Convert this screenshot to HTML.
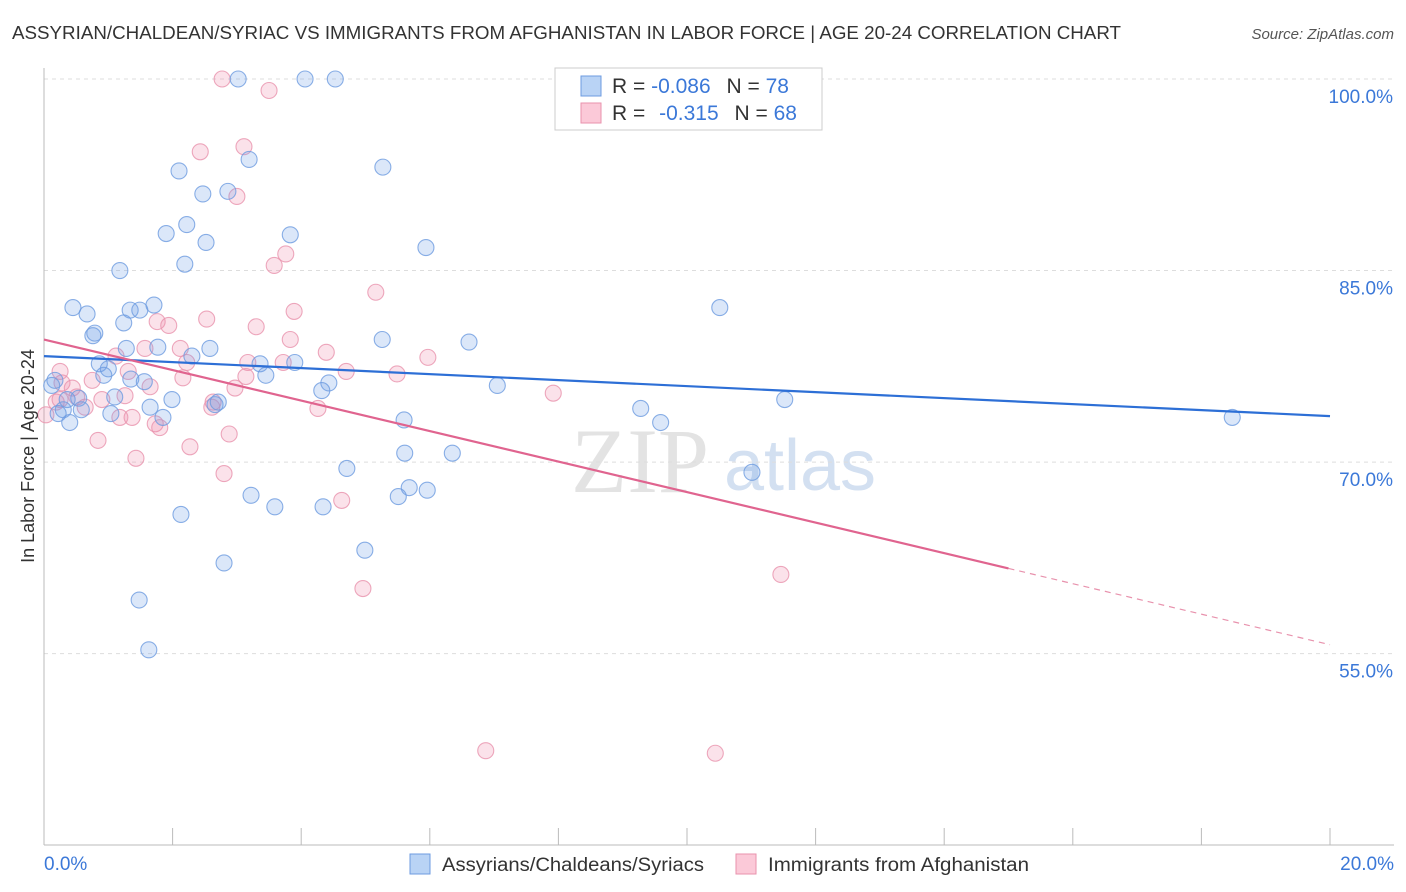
<!DOCTYPE html>
<html><head><meta charset="utf-8"><style>
body{margin:0;background:#fff;font-family:"Liberation Sans",sans-serif}
svg{display:block}
</style></head><body>
<svg id="chart" width="1406" height="892" xmlns="http://www.w3.org/2000/svg" font-family="Liberation Sans, sans-serif">
<text x="12" y="39" font-size="18" fill="#333" textLength="1109" lengthAdjust="spacingAndGlyphs">ASSYRIAN/CHALDEAN/SYRIAC VS IMMIGRANTS FROM AFGHANISTAN IN LABOR FORCE | AGE 20-24 CORRELATION CHART</text>
<text x="1394" y="39" font-size="15" fill="#555" text-anchor="end" font-style="italic">Source: ZipAtlas.com</text>
<g>
<text x="640" y="492" font-size="92" fill="#ddd" text-anchor="middle" font-family="Liberation Serif, serif" opacity="0.8">ZIP</text>
<text x="800" y="490" font-size="72" fill="#c9d9ee" text-anchor="middle" opacity="0.8">atlas</text>
</g>
<g id="grid"></g>
<g id="axes"></g>
<g id="marks"></g>
<text transform="translate(34,456) rotate(-90)" font-size="18" fill="#333" text-anchor="middle">In Labor Force | Age 20-24</text>
<g>
<rect x="555" y="68" width="267" height="62" fill="#fff" stroke="#ccc"/>
<rect x="581" y="76" width="20" height="20" fill="#b9d3f5" stroke="#6d9be0"/>
<rect x="581" y="103" width="20" height="20" fill="#fbc9d8" stroke="#e892ad"/>
<text x="612" y="93" font-size="21" fill="#333">R = <tspan fill="#3b78d8">-0.086</tspan>  <tspan dx="10">N = </tspan><tspan fill="#3b78d8">78</tspan></text>
<text x="612" y="120" font-size="21" fill="#333">R = <tspan dx="8" fill="#3b78d8">-0.315</tspan>  <tspan dx="10">N = </tspan><tspan fill="#3b78d8">68</tspan></text>
</g>
<g>
<rect x="410" y="854" width="20" height="20" fill="#b9d3f5" stroke="#6d9be0"/>
<text x="442" y="871" font-size="19" fill="#333" textLength="262" lengthAdjust="spacingAndGlyphs">Assyrians/Chaldeans/Syriacs</text>
<rect x="736" y="854" width="20" height="20" fill="#fbc9d8" stroke="#e892ad"/>
<text x="768" y="871" font-size="19" fill="#333" textLength="261" lengthAdjust="spacingAndGlyphs">Immigrants from Afghanistan</text>
</g>
</svg>
<script>
const xTicks=[0,2,4,6,8,10,12,14,16,18,20];
const yTicks=[100,85,70,55];
const yTickLabels=["100.0%","85.0%","70.0%","55.0%"];
const blueX=[3.02,4.06,4.53,2.10,3.19,5.27,2.47,2.86,2.22,1.90,2.52,3.83,5.94,2.19,1.18,0.45,0.67,1.34,1.49,1.71,1.24,0.76,0.79,10.51,5.26,6.61,1.28,1.77,2.58,2.30,0.86,1.00,3.36,3.90,3.45,0.93,1.35,1.56,4.43,4.32,7.05,0.17,0.12,0.54,0.36,1.10,1.99,1.65,2.66,2.71,0.58,0.30,0.22,1.04,1.85,11.52,9.28,9.59,5.60,0.40,18.48,5.61,6.35,4.71,11.01,5.68,3.22,5.51,5.96,3.59,4.34,2.13,4.99,2.80,1.48,1.63];
const blueY=[100,100,100,92.8,93.7,93.1,91.0,91.2,88.6,87.9,87.2,87.8,86.8,85.5,85.0,82.1,81.6,81.9,81.9,82.3,80.9,79.9,80.1,82.1,79.6,79.4,78.9,79.0,78.9,78.3,77.7,77.3,77.7,77.8,76.8,76.8,76.5,76.3,76.2,75.6,76.0,76.4,76.0,75.0,74.9,75.1,74.9,74.3,74.5,74.7,74.1,74.1,73.8,73.8,73.5,74.9,74.2,73.1,73.3,73.1,73.5,70.7,70.7,69.5,69.2,68.0,67.4,67.3,67.8,66.5,66.5,65.9,63.1,62.1,59.2,55.3];
const pinkX=[2.77,3.50,2.43,3.11,3.00,3.76,3.58,5.16,3.89,2.53,3.30,1.76,1.94,3.83,4.39,1.57,2.12,1.12,2.22,3.72,3.17,5.97,4.70,5.49,3.14,2.16,1.31,0.75,0.28,0.25,0.44,0.90,0.51,1.26,1.65,2.97,2.63,2.61,0.19,0.64,4.26,1.37,1.18,1.73,1.80,2.88,0.84,2.27,1.43,2.80,4.63,7.92,11.46,4.96,6.87,10.44,0.03,0.25];
const pinkY=[100,99.1,94.3,94.7,90.8,86.3,85.4,83.3,81.8,81.2,80.6,81.0,80.7,79.6,78.6,78.9,78.9,78.3,77.8,77.8,77.8,78.2,77.1,76.9,76.7,76.6,77.1,76.4,76.2,77.1,75.8,74.9,75.1,75.2,75.9,75.8,74.7,74.3,74.7,74.3,74.2,73.5,73.5,73.0,72.7,72.2,71.7,71.2,70.3,69.1,67.0,75.4,61.2,60.1,47.4,47.2,73.7,74.9];
const blueTrend=[78.3,73.6];
const pinkTrend=[79.6,55.7];
const pinkSolidEnd=15.0;
const NS="http://www.w3.org/2000/svg";
const X=v=>44+v/20*1286;
const Y=v=>79+(100-v)*12.77;
function mk(tag,attrs,parent){const e=document.createElementNS(NS,tag);for(const k in attrs)e.setAttribute(k,attrs[k]);parent.appendChild(e);return e;}
const grid=document.getElementById('grid'),axes=document.getElementById('axes'),marks=document.getElementById('marks');
yTicks.forEach((t,i)=>{
 const l=mk('line',{x1:44,x2:1394,y1:Y(t),y2:Y(t),stroke:'#ddd','stroke-dasharray':'4,4'},grid);
 
 
 const tx=mk('text',{x:1393,y:Y(t)+24,'font-size':19,fill:'#3b78d8','text-anchor':'end'},axes);
 tx.textContent=yTickLabels[i];
 
 
});
const ax=mk('line',{x1:44,x2:44,y1:68,y2:845,stroke:'#bbb'},axes);


const bx=mk('line',{x1:44,x2:1394,y1:845,y2:845,stroke:'#bbb'},axes);


xTicks.forEach(t=>{
 const l=mk('line',{x1:X(t),x2:X(t),y1:828,y2:845,stroke:'#bbb'},axes);
 
 
});
[[0,"0.0%",'start',44],[20,"20.0%",'end',1394]].forEach(([t,s,a,x])=>{
 const tx=mk('text',{x:x,y:870,'font-size':19,fill:'#3b78d8','text-anchor':a},axes);
 tx.textContent=s;
 
 
});
function pts(xs,ys,fill,stroke,name){xs.forEach((x,i)=>{
 const c=mk('circle',{cx:X(x),cy:Y(ys[i]),r:8,fill:fill,stroke:stroke,'stroke-width':1.1,'stroke-opacity':0.8},marks);
 
 
});}
pts(pinkX,pinkY,'rgba(240,140,170,0.25)','#e892ad','afghanistan-point');
pts(blueX,blueY,'rgba(110,160,230,0.25)','#6d9be0','assyrian-point');
const bl=mk('line',{x1:X(0),y1:Y(blueTrend[0]),x2:X(20),y2:Y(blueTrend[1]),stroke:'#2d6fd6','stroke-width':2.2},marks);


const pAt=x=>pinkTrend[0]+(pinkTrend[1]-pinkTrend[0])*x/20;
const pl=mk('line',{x1:X(0),y1:Y(pinkTrend[0]),x2:X(pinkSolidEnd),y2:Y(pAt(pinkSolidEnd)),stroke:'#e0648f','stroke-width':2.2},marks);


const pd=mk('line',{x1:X(pinkSolidEnd),y1:Y(pAt(pinkSolidEnd)),x2:X(20),y2:Y(pinkTrend[1]),stroke:'#e892ad','stroke-width':1.2,'stroke-dasharray':'6,5'},marks);


</script>
</body></html>
